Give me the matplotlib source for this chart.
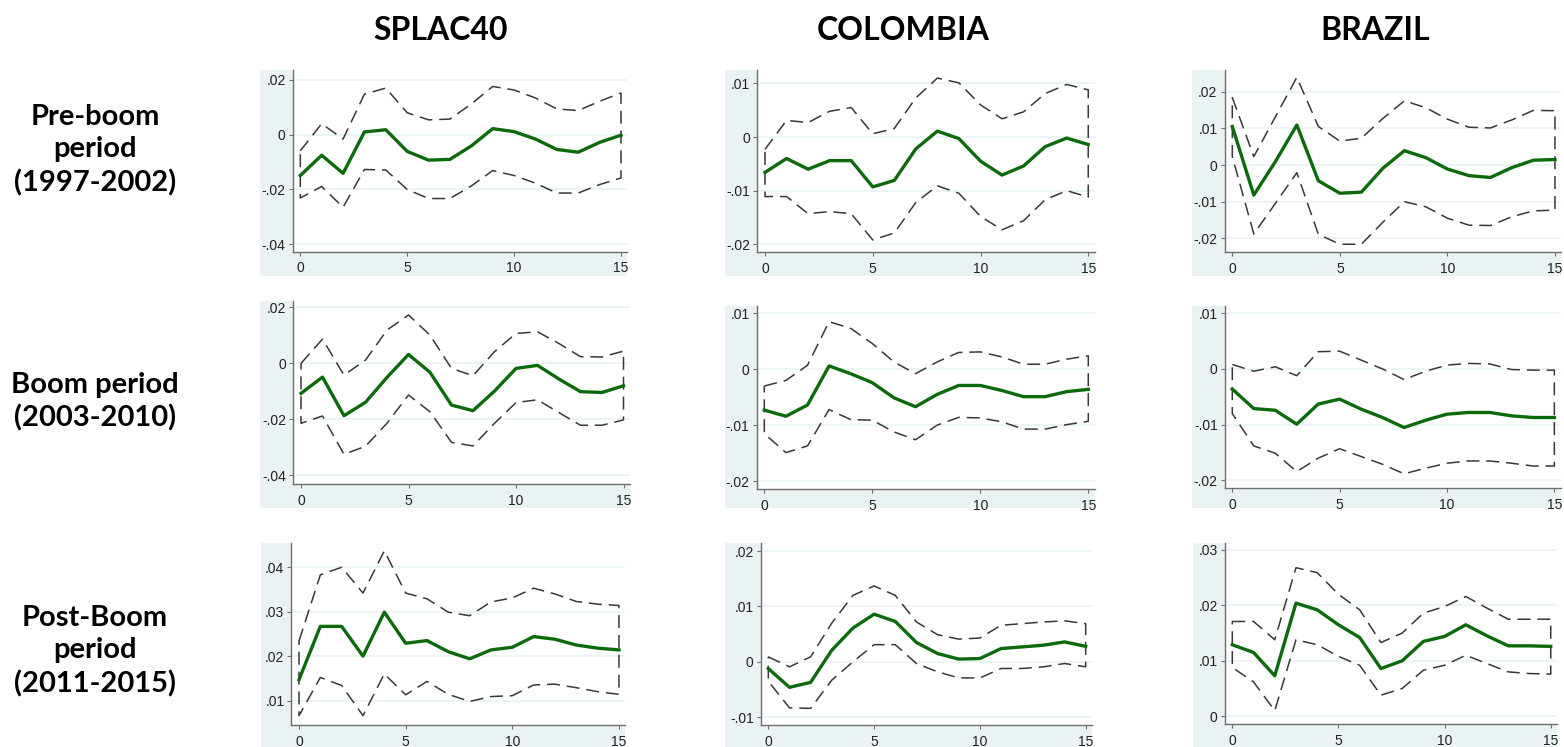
import matplotlib
matplotlib.use('Agg')
import matplotlib.pyplot as plt
from matplotlib.patches import Rectangle

W, H = 1564, 747

steps = list(range(16))

# ---------------------------------------------------------------
# Impulse responses (irf) and confidence bands (lo / hi)
# ---------------------------------------------------------------
# SPLAC40
splac_pre_irf = [-0.0149, -0.0075, -0.0141, 0.0010, 0.0018, -0.0061, -0.0093, -0.0090,
                 -0.0041, 0.0022, 0.0011, -0.0016, -0.0054, -0.0064, -0.0028, -0.0002]
splac_pre_hi = [-0.0059, 0.0040, -0.0016, 0.0148, 0.0170, 0.0080, 0.0054, 0.0057,
                0.0112, 0.0176, 0.0163, 0.0134, 0.0094, 0.0088, 0.0122, 0.0152]
splac_pre_lo = [-0.0231, -0.0189, -0.0265, -0.0127, -0.0129, -0.0200, -0.0233, -0.0233,
                -0.0187, -0.0131, -0.0149, -0.0177, -0.0213, -0.0213, -0.0182, -0.0158]

splac_boom_irf = [-0.0107, -0.0049, -0.0187, -0.0139, -0.0050, 0.0032, -0.0032, -0.0149,
                  -0.0169, -0.0099, -0.0018, -0.0007, -0.0056, -0.0101, -0.0104, -0.0080]
splac_boom_hi = [0.0000, 0.0087, -0.0042, 0.0012, 0.0119, 0.0173, 0.0101, -0.0018,
                 -0.0044, 0.0042, 0.0107, 0.0113, 0.0071, 0.0024, 0.0023, 0.0044]
splac_boom_lo = [-0.0214, -0.0188, -0.0325, -0.0296, -0.0214, -0.0113, -0.0173, -0.0282,
                 -0.0295, -0.0214, -0.0140, -0.0130, -0.0176, -0.0221, -0.0221, -0.0202]

splac_post_irf = [0.0147, 0.0267, 0.0267, 0.0200, 0.0299, 0.0229, 0.0235, 0.0210,
                  0.0194, 0.0214, 0.0220, 0.0244, 0.0238, 0.0225, 0.0218, 0.0214]
splac_post_hi = [0.0234, 0.0383, 0.0400, 0.0342, 0.0437, 0.0342, 0.0329, 0.0299,
                 0.0291, 0.0322, 0.0331, 0.0353, 0.0340, 0.0323, 0.0317, 0.0314]
splac_post_lo = [0.0066, 0.0152, 0.0134, 0.0066, 0.0160, 0.0113, 0.0143, 0.0114,
                 0.0098, 0.0109, 0.0111, 0.0135, 0.0137, 0.0129, 0.0120, 0.0114]

# COLOMBIA
col_pre_irf = [-0.0066, -0.0040, -0.0060, -0.0044, -0.0044, -0.0093, -0.0081, -0.0022,
               0.0011, -0.0003, -0.0045, -0.0071, -0.0054, -0.0018, -0.0002, -0.0014]
col_pre_hi = [-0.0023, 0.0031, 0.0027, 0.0048, 0.0055, 0.0006, 0.0016, 0.0073,
              0.0110, 0.0101, 0.0060, 0.0034, 0.0047, 0.0081, 0.0098, 0.0088]
col_pre_lo = [-0.0111, -0.0111, -0.0143, -0.0139, -0.0143, -0.0192, -0.0179, -0.0122,
              -0.0091, -0.0105, -0.0148, -0.0173, -0.0156, -0.0117, -0.0100, -0.0112]

col_boom_irf = [-0.0073, -0.0084, -0.0064, 0.0006, -0.0008, -0.0024, -0.0051, -0.0067,
                -0.0045, -0.0029, -0.0029, -0.0038, -0.0049, -0.0049, -0.0040, -0.0036]
col_boom_hi = [-0.0030, -0.0020, 0.0007, 0.0085, 0.0073, 0.0046, 0.0013, -0.0008,
               0.0013, 0.0030, 0.0031, 0.0022, 0.0009, 0.0009, 0.0018, 0.0024]
col_boom_lo = [-0.0115, -0.0149, -0.0137, -0.0072, -0.0090, -0.0091, -0.0112, -0.0126,
               -0.0100, -0.0086, -0.0087, -0.0094, -0.0107, -0.0107, -0.0099, -0.0093]

col_post_irf = [-0.0012, -0.0046, -0.0037, 0.0021, 0.0061, 0.0086, 0.0073, 0.0035,
                0.0015, 0.0005, 0.0006, 0.0024, 0.0027, 0.0030, 0.0036, 0.0028]
col_post_hi = [0.0009, -0.0009, 0.0009, 0.0070, 0.0120, 0.0137, 0.0120, 0.0072,
               0.0049, 0.0041, 0.0043, 0.0066, 0.0069, 0.0072, 0.0074, 0.0069]
col_post_lo = [-0.0035, -0.0083, -0.0084, -0.0033, 0.0000, 0.0031, 0.0031, -0.0003,
               -0.0018, -0.0029, -0.0029, -0.0012, -0.0012, -0.0009, -0.0003, -0.0009]

# BRAZIL
bra_pre_irf = [0.0105, -0.0082, 0.0009, 0.0109, -0.0043, -0.0077, -0.0074, -0.0009,
               0.0039, 0.0020, -0.0011, -0.0029, -0.0034, -0.0007, 0.0013, 0.0015]
bra_pre_hi = [0.0184, 0.0023, 0.0131, 0.0239, 0.0105, 0.0065, 0.0073, 0.0127,
              0.0175, 0.0156, 0.0125, 0.0103, 0.0101, 0.0123, 0.0149, 0.0148]
bra_pre_lo = [0.0023, -0.0188, -0.0105, -0.0021, -0.0189, -0.0216, -0.0216, -0.0156,
              -0.0100, -0.0114, -0.0145, -0.0164, -0.0165, -0.0141, -0.0125, -0.0123]

bra_boom_irf = [-0.0036, -0.0071, -0.0074, -0.0099, -0.0063, -0.0054, -0.0072, -0.0087,
                -0.0105, -0.0092, -0.0081, -0.0078, -0.0078, -0.0084, -0.0087, -0.0087]
bra_boom_hi = [0.0008, -0.0004, 0.0004, -0.0012, 0.0031, 0.0032, 0.0016, 0.0000,
               -0.0019, -0.0004, 0.0007, 0.0010, 0.0009, -0.0001, -0.0002, -0.0002]
bra_boom_lo = [-0.0080, -0.0138, -0.0151, -0.0184, -0.0160, -0.0143, -0.0157, -0.0171,
               -0.0188, -0.0178, -0.0169, -0.0165, -0.0165, -0.0169, -0.0174, -0.0174]

bra_post_irf = [0.0129, 0.0115, 0.0073, 0.0204, 0.0192, 0.0165, 0.0142, 0.0086,
                0.0100, 0.0135, 0.0144, 0.0165, 0.0145, 0.0127, 0.0127, 0.0126]
bra_post_hi = [0.0171, 0.0171, 0.0138, 0.0268, 0.0259, 0.0220, 0.0192, 0.0133,
               0.0150, 0.0186, 0.0198, 0.0216, 0.0195, 0.0175, 0.0175, 0.0175]
bra_post_lo = [0.0088, 0.0062, 0.0010, 0.0138, 0.0129, 0.0108, 0.0092, 0.0038,
               0.0050, 0.0083, 0.0092, 0.0110, 0.0095, 0.0080, 0.0077, 0.0076]

col_titles = ['SPLAC40', 'COLOMBIA', 'BRAZIL']
row_titles = ['Pre-boom\nperiod\n(1997-2002)', 'Boom period\n(2003-2010)',
              'Post-Boom\nperiod\n(2011-2015)']

panels = [
    [(splac_pre_irf, splac_pre_lo, splac_pre_hi),
     (col_pre_irf, col_pre_lo, col_pre_hi),
     (bra_pre_irf, bra_pre_lo, bra_pre_hi)],
    [(splac_boom_irf, splac_boom_lo, splac_boom_hi),
     (col_boom_irf, col_boom_lo, col_boom_hi),
     (bra_boom_irf, bra_boom_lo, bra_boom_hi)],
    [(splac_post_irf, splac_post_lo, splac_post_hi),
     (col_post_irf, col_post_lo, col_post_hi),
     (bra_post_irf, bra_post_lo, bra_post_hi)],
]

y_ticks = [
    [[-0.04, -0.02, 0, 0.02], [-0.02, -0.01, 0, 0.01], [-0.02, -0.01, 0, 0.01, 0.02]],
    [[-0.04, -0.02, 0, 0.02], [-0.02, -0.01, 0, 0.01], [-0.02, -0.01, 0, 0.01]],
    [[0.01, 0.02, 0.03, 0.04], [-0.01, 0, 0.01, 0.02], [0, 0.01, 0.02, 0.03]],
]
y_lims = [
    [(-0.0427, 0.0236), (-0.0215, 0.0125), (-0.0238, 0.0259)],
    [(-0.0431, 0.0223), (-0.0214, 0.0113), (-0.0214, 0.0113)],
    [(0.0045, 0.0454), (-0.0114, 0.0214), (-0.0014, 0.0312)],
]

# layout in pixels: x of tick "0", px per step, top, bottom, grey-left, grey-bottom
layout = [
    [(300.3, 21.38, 70, 251.7, 260, 276), (765.0, 21.55, 70, 252.3, 725, 276),
     (1232.3, 21.51, 70, 252.3, 1192, 276)],
    [(301.0, 21.5, 301, 484, 260, 508), (764.3, 21.6, 306, 489, 725, 508),
     (1232.3, 21.47, 306, 488.3, 1192, 508)],
    [(299.0, 21.33, 543.3, 725, 261, 747), (768.3, 21.16, 543.3, 725, 725, 747),
     (1232.3, 21.23, 543.3, 724, 1193, 747)],
]
XMIN, XMAX = -0.36, 15.3

GREY_BG = '#eaf2f3'
GREEN = '#0c6a0c'


def stata_fmt(v):
    if abs(v) < 1e-12:
        return '0'
    s = f"{v:.2f}".rstrip('0')
    return s.replace('0.', '.')


fig = plt.figure(figsize=(W / 100, H / 100), dpi=100)

for r in range(3):
    for c in range(3):
        x0, unit, top, bot, gleft, gbot = layout[r][c]
        left = x0 + XMIN * unit
        right = x0 + XMAX * unit
        # light blue-grey graph region behind the axis labels
        fig.patches.append(Rectangle((gleft / W, 1 - gbot / H), (right - gleft) / W,
                                     (gbot - top) / H, transform=fig.transFigure,
                                     facecolor=GREY_BG, edgecolor='none', zorder=-10))
        ax = fig.add_axes([left / W, 1 - bot / H, (right - left) / W, (bot - top) / H])
        ax.set_zorder(5)
        ax.set_facecolor('white')
        irf, lo, hi = panels[r][c]
        band_x = steps + steps[::-1] + [steps[0]]
        band_y = hi + lo[::-1] + [hi[0]]
        ax.plot(band_x, band_y, color='#383838', lw=1.1, linestyle=(0, (8.5, 4.5)), zorder=2)
        ax.plot(steps, irf, color=GREEN, lw=2.4, zorder=3)
        ax.set_xlim(XMIN, XMAX)
        ax.set_ylim(*y_lims[r][c])
        ax.set_xticks([0, 5, 10, 15])
        ax.set_yticks(y_ticks[r][c])
        ax.set_yticklabels([stata_fmt(v) for v in y_ticks[r][c]])
        for v in y_ticks[r][c]:
            ax.axhline(v, color=GREY_BG, lw=1.2, zorder=1)
        for side in ['top', 'right']:
            ax.spines[side].set_visible(False)
        for side in ['left', 'bottom']:
            ax.spines[side].set_color('#6e6e6e')
            ax.spines[side].set_linewidth(1.0)
        ax.tick_params(axis='both', direction='out', length=3, width=0.8,
                       color='#6e6e6e', labelsize=10, labelcolor='#222222', pad=2)
        ax.tick_params(axis='x', pad=4)
        for lab in ax.get_xticklabels() + ax.get_yticklabels():
            lab.set_family('Liberation Sans')

title_x = [441, 903, 1375]
for c, t in enumerate(col_titles):
    fig.text(title_x[c] / W, 1 - 31 / H, t, ha='center', va='center',
             fontsize=23, fontweight='bold', family='Lato')

row_y = [150, 402, 651]
for r, t in enumerate(row_titles):
    fig.text(95 / W, 1 - row_y[r] / H, t, ha='center', va='center',
             fontsize=21, fontweight='bold', family='Lato', linespacing=1.3)

fig.savefig('out.png', dpi=100)
